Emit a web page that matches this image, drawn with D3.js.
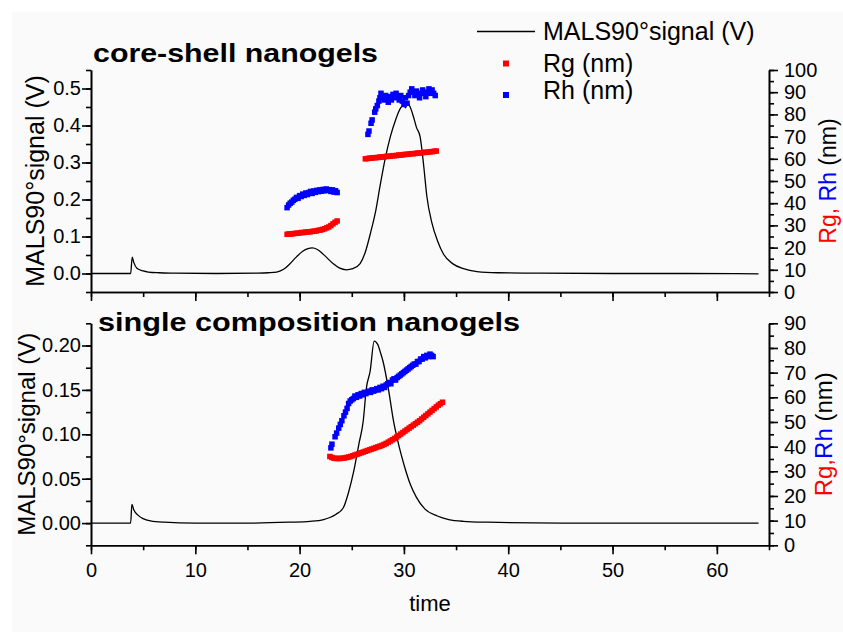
<!DOCTYPE html>
<html><head><meta charset="utf-8">
<script src="https://cdn.jsdelivr.net/npm/d3@7"></script>
<style>
body{margin:0;background:#fff;}
svg{display:block;font-family:"Liberation Sans",Arial,sans-serif;}
</style></head>
<body><svg id="chart" width="843" height="632"></svg>
<script>
// ---------------- DATA ----------------
const timeTicks = [0,10,20,30,40,50,60];
const topLeftTicks = [0.0,0.1,0.2,0.3,0.4,0.5];
const topRightTicks = [0,10,20,30,40,50,60,70,80,90,100];
const botLeftTicks = [0.00,0.05,0.10,0.15,0.20];
const botRightTicks = [0,10,20,30,40,50,60,70,80,90];

// core-shell nanogels: MALS 90° signal (time, V)
const topSignal = [
 [0,0],[3.8,0],[3.95,0.044],[4.1,0.03],[4.4,0.014],[5,0.007],[5.5,0.004],[6.5,0.002],[8,0.001],[12,0],[16,0.001],
 [17,0.002],[17.8,0.004],[18.5,0.012],[19.1,0.027],[19.7,0.045],[20.3,0.06],[20.8,0.067],[21.2,0.069],[21.7,0.065],
 [22.3,0.051],[23.2,0.027],[23.8,0.015],[24.5,0.01],[25.1,0.013],[25.8,0.027],[26.3,0.058],[26.8,0.11],[27.3,0.17],
 [27.7,0.235],[28.2,0.31],[28.7,0.37],[29.2,0.415],[29.7,0.448],[30.0,0.456],[30.15,0.448],[30.3,0.461],[30.6,0.45],
 [30.9,0.425],[31.2,0.395],[31.55,0.37],[31.9,0.29],[32.2,0.208],[32.7,0.135],[33.2,0.09],[33.8,0.052],[34.7,0.026],
 [35.7,0.013],[37,0.005],[39,0.002],[43,0.001],[50,0],[57,0],[64,-0.001]
];
// core-shell nanogels: Rg (time, nm)
const topRg = [
 [18.8,26.0],[19.0,26.2],[19.2,26.1],[19.4,26.3],[19.6,26.4],[19.8,26.5],[20.0,26.6],[20.2,26.8],[20.4,26.8],[20.6,27.0],
 [20.8,27.1],[21.0,27.1],[21.2,27.3],[21.4,27.4],[21.6,27.5],[21.8,27.8],[22.0,27.9],[22.2,28.2],[22.4,28.5],[22.6,28.9],
 [22.8,29.3],[23.0,29.9],[23.2,30.7],[23.4,31.4],[23.6,32.0],
 [26.3,60.0],[26.5,60.1],[26.7,60.3],[26.9,60.3],[27.1,60.5],[27.3,60.5],[27.5,60.6],[27.7,60.8],[27.9,60.8],[28.1,60.9],
 [28.3,61.1],[28.5,61.1],[28.7,61.2],[28.9,61.4],[29.1,61.4],[29.3,61.5],[29.5,61.7],[29.7,61.7],[29.9,61.8],[30.1,62.0],
 [30.3,62.0],[30.5,62.1],[30.7,62.3],[30.9,62.3],[31.1,62.4],[31.3,62.6],[31.5,62.6],[31.7,62.7],[31.9,62.9],[32.1,62.9],
 [32.3,63.0],[32.5,63.2],[32.7,63.2],[32.9,63.4],[33.1,63.5]
];
// core-shell nanogels: Rh (time, nm)
const topRh = [
 [18.8,38.0],[18.95,39.2],[19.1,40.0],[19.25,40.5],[19.4,41.3],[19.55,41.8],[19.7,42.6],[19.85,42.2],[20.0,43.4],[20.15,43.0],
 [20.3,44.1],[20.45,43.5],[20.6,44.6],[20.75,43.9],[20.9,44.8],[21.05,45.3],[21.2,44.4],[21.35,45.5],[21.5,44.9],[21.65,45.8],
 [21.8,45.2],[21.95,46.0],[22.1,45.4],[22.25,46.2],[22.4,45.6],[22.55,46.4],[22.7,45.8],[22.85,46.1],[23.0,45.3],[23.15,46.0],
 [23.3,45.0],[23.45,45.6],[23.6,44.8],
 [26.55,71.0],[26.65,72.5],[26.85,76.0],[26.95,77.5],[27.2,81.0],[27.3,82.5],[27.45,84.0],[27.6,86.0],[27.7,87.5],[27.8,89.5],
 [27.95,88.0],[28.1,86.5],[28.25,88.5],[28.4,87.0],[28.5,85.5],[28.65,88.0],[28.8,86.5],[28.95,89.0],[29.1,87.5],[29.25,89.5],
 [29.4,88.0],[29.55,86.5],[29.7,88.5],[29.85,86.0],[30.0,84.5],[30.15,87.5],[30.3,85.0],[30.45,88.5],[30.6,90.0],[30.75,91.5],
 [30.9,90.0],[31.05,88.5],[31.2,90.5],[31.35,89.0],[31.5,87.5],[31.65,89.5],[31.8,91.0],[31.95,89.5],[32.1,88.0],[32.25,90.0],
 [32.4,91.5],[32.55,89.5],[32.7,91.0],[32.85,89.5],[33.0,88.5]
];

// single composition nanogels: MALS 90° signal (time, V)
const botSignal = [
 [0,0],[3.8,0],[3.92,0.021],[4.1,0.015],[4.5,0.009],[5,0.005],[5.7,0.0025],[7,0.001],[10,0],[15,0],[19,0.001],[21,0.002],
 [22.3,0.004],[22.9,0.0063],[23.5,0.01],[24.2,0.0175],[24.7,0.035],[25.2,0.059],[25.7,0.09],[26.1,0.115],[26.4,0.152],
 [26.76,0.171],[27.15,0.205],[27.5,0.201],[27.7,0.194],[28.0,0.182],[28.5,0.152],[29.0,0.115],[29.5,0.088],[30.0,0.066],
 [30.6,0.044],[31.2,0.029],[32.0,0.016],[33.2,0.008],[34.3,0.004],[35.7,0.002],[38,0.001],[45,0],[55,0],[64,0]
];
// single composition nanogels: Rg (time, nm)
const botRg = [
 [22.9,36.0],[23.1,35.6],[23.3,35.3],[23.5,35.2],[23.7,35.2],[23.9,35.2],[24.1,35.3],[24.3,35.4],[24.5,35.6],[24.7,35.8],
 [24.9,36.0],[25.1,36.3],[25.3,36.6],[25.5,36.9],[25.7,37.2],[25.9,37.5],[26.1,37.8],[26.3,38.1],[26.5,38.4],[26.7,38.7],
 [26.9,39.0],[27.1,39.3],[27.3,39.6],[27.5,39.9],[27.7,40.2],[27.9,40.5],[28.1,40.9],[28.3,41.3],[28.5,41.8],[28.7,42.3],
 [28.9,42.8],[29.1,43.3],[29.3,43.9],[29.5,44.5],[29.7,45.1],[29.9,45.7],[30.1,46.3],[30.3,46.9],[30.5,47.5],[30.7,48.1],
 [30.9,48.7],[31.1,49.3],[31.3,49.9],[31.5,50.5],[31.7,51.2],[31.9,51.9],[32.1,52.6],[32.3,53.3],[32.5,54.0],[32.7,54.7],
 [32.9,55.4],[33.1,56.1],[33.3,56.8],[33.5,57.4],[33.7,58.0]
];
// single composition nanogels: Rh (time, nm)
const botRh = [
 [23.0,39.5],[23.1,41.0],[23.4,44.0],[23.55,45.5],[23.75,47.5],[23.9,49.0],[24.05,50.5],[24.25,52.5],[24.4,54.0],[24.55,55.5],
 [24.7,57.5],[24.85,58.5],[25.0,59.0],[25.15,59.5],[25.3,60.5],[25.45,60.0],[25.6,61.0],[25.75,60.5],[25.9,61.5],[26.05,61.0],
 [26.2,62.0],[26.35,61.5],[26.5,62.0],[26.65,62.5],[26.8,62.0],[26.95,63.0],[27.1,62.5],[27.25,63.0],[27.4,63.5],[27.55,63.0],
 [27.7,64.0],[27.85,63.5],[28.0,64.5],[28.15,64.0],[28.3,65.0],[28.45,65.5],[28.6,66.0],[28.75,65.5],[28.9,67.0],[29.05,67.5],
 [29.2,67.0],[29.35,68.0],[29.5,68.5],[29.65,69.0],[29.8,69.5],[29.95,70.0],[30.1,70.5],[30.25,71.0],[30.4,71.5],[30.55,72.0],
 [30.7,72.5],[30.85,73.0],[31.0,73.5],[31.15,73.5],[31.3,74.5],[31.45,74.5],[31.6,75.5],[31.75,75.5],[31.9,76.5],[32.05,76.0],
 [32.2,77.0],[32.35,76.5],[32.5,77.5],[32.65,77.0],[32.8,76.5]
];

// ---------------- DRAW ----------------
const svg = d3.select("#chart");
svg.append("rect").attr("x",12).attr("y",12).attr("width",831).attr("height",620).attr("fill","#fafafa");

const X0 = 91, X1 = 769;
const x = d3.scaleLinear().domain([0,65]).range([X0,X1]);

const panels = [
  {title:"core-shell nanogels", titleX:93, titleY:62, titleLen:285,
   top:70, bottom:292, yl:[-0.05,0.55], yr:[0,100], lt:topLeftTicks, lfmt:d3.format(".1f"), lminor:0.05,
   rt:topRightTicks, rminor:5, signal:topSignal, rg:topRg, rh:topRh, showX:false,
   lLabelX:44, lLabelSize:25, rLabelX:836, rLabelSize:23, rLabel:["Rg, ","Rh"," (nm)"]},
  {title:"single composition nanogels", titleX:98, titleY:331, titleLen:422,
   top:323.3, bottom:545.3, yl:[-0.025,0.225], yr:[0,90], lt:botLeftTicks, lfmt:d3.format(".2f"), lminor:0.025,
   rt:botRightTicks, rminor:5, signal:botSignal, rg:botRg, rh:botRh, showX:true,
   lLabelX:35, lLabelSize:24, rLabelX:832, rLabelSize:24, rLabel:["Rg,","Rh"," (nm)"]}
];

const axisStyle = g => {
  g.selectAll("path.domain").attr("stroke","#000").attr("stroke-width",1.6);
  g.selectAll(".tick line").attr("stroke","#000").attr("stroke-width",1.6);
  g.selectAll("text").attr("font-size",20).attr("fill","#000").attr("font-family","'Liberation Sans',Arial,sans-serif");
};

panels.forEach(p => {
  const yl = d3.scaleLinear().domain(p.yl).range([p.bottom,p.top]);
  const yr = d3.scaleLinear().domain(p.yr).range([p.bottom,p.top]);

  // minor ticks
  const lMinor = d3.range(p.yl[0], p.yl[1]+1e-9, p.lminor);
  svg.append("g").attr("transform",`translate(${X0},0)`)
    .call(d3.axisLeft(yl).tickValues(lMinor).tickSize(5).tickSizeOuter(0).tickFormat(""))
    .call(axisStyle);
  svg.append("g").attr("transform",`translate(${X0},0)`)
    .call(d3.axisLeft(yl).tickValues(p.lt).tickSize(9).tickSizeOuter(0).tickPadding(1).tickFormat(p.lfmt))
    .call(axisStyle);

  const rMinor = d3.range(p.yr[0], p.yr[1]+1e-9, p.rminor);
  svg.append("g").attr("transform",`translate(${X1},0)`)
    .call(d3.axisRight(yr).tickValues(rMinor).tickSize(5).tickSizeOuter(0).tickFormat(""))
    .call(axisStyle);
  svg.append("g").attr("transform",`translate(${X1},0)`)
    .call(d3.axisRight(yr).tickValues(p.rt).tickSize(9).tickSizeOuter(0).tickPadding(6))
    .call(axisStyle);

  const xMinor = d3.range(0, 65.001, 5);
  svg.append("g").attr("transform",`translate(0,${p.bottom})`)
    .call(d3.axisBottom(x).tickValues(xMinor).tickSize(5).tickSizeOuter(0).tickFormat(""))
    .call(axisStyle);
  svg.append("g").attr("transform",`translate(0,${p.bottom})`)
    .call(d3.axisBottom(x).tickValues(timeTicks).tickSize(9).tickSizeOuter(0).tickPadding(9)
      .tickFormat(p.showX ? d3.format("d") : ""))
    .call(axisStyle);

  // signal line
  svg.append("path").datum(p.signal)
    .attr("fill","none").attr("stroke","#000").attr("stroke-width",1.3)
    .attr("d", d3.line().x(d=>x(d[0])).y(d=>yl(d[1])).curve(d3.curveMonotoneX));

  // markers
  const ms = 5.5;
  svg.append("g").selectAll("rect").data(p.rg).join("rect")
    .attr("x",d=>x(d[0])-ms/2).attr("y",d=>yr(d[1])-ms/2).attr("width",ms).attr("height",ms).attr("fill","#ff0000");
  svg.append("g").selectAll("rect").data(p.rh).join("rect")
    .attr("x",d=>x(d[0])-ms/2).attr("y",d=>yr(d[1])-ms/2).attr("width",ms).attr("height",ms).attr("fill","#0000ff");

  // title
  svg.append("text").attr("x",p.titleX).attr("y",p.titleY)
    .attr("font-size",25).attr("font-weight","bold").attr("fill","#000")
    .attr("textLength",p.titleLen).attr("lengthAdjust","spacingAndGlyphs")
    .text(p.title);

  // left label
  const cy = (p.top+p.bottom)/2;
  svg.append("text").attr("transform",`translate(${p.lLabelX},${cy}) rotate(-90)`)
    .attr("text-anchor","middle").attr("font-size",p.lLabelSize).attr("fill","#000")
    .text("MALS90°signal (V)");

  // right label
  const rl = svg.append("text").attr("transform",`translate(${p.rLabelX},${cy}) rotate(-90)`)
    .attr("text-anchor","middle").attr("font-size",p.rLabelSize);
  rl.append("tspan").attr("fill","#ff0000").text(p.rLabel[0]);
  rl.append("tspan").attr("fill","#0000ff").text(p.rLabel[1]);
  rl.append("tspan").attr("fill","#000").text(p.rLabel[2]);
});

// x label
svg.append("text").attr("x",430).attr("y",611).attr("text-anchor","middle")
  .attr("font-size",22).attr("fill","#000").text("time");

// legend
const legend = svg.append("g");
legend.append("line").attr("x1",477).attr("x2",535).attr("y1",31.5).attr("y2",31.5)
  .attr("stroke","#000").attr("stroke-width",1.3);
legend.append("text").attr("x",543).attr("y",40).attr("font-size",25).text("MALS90°signal (V)");
legend.append("rect").attr("x",503).attr("y",60.5).attr("width",6).attr("height",6).attr("fill","#ff0000");
legend.append("text").attr("x",543).attr("y",72).attr("font-size",25).text("Rg (nm)");
legend.append("rect").attr("x",503).attr("y",92).attr("width",6).attr("height",6).attr("fill","#0000ff");
legend.append("text").attr("x",543).attr("y",99).attr("font-size",25).text("Rh (nm)");
</script>
</body></html>
